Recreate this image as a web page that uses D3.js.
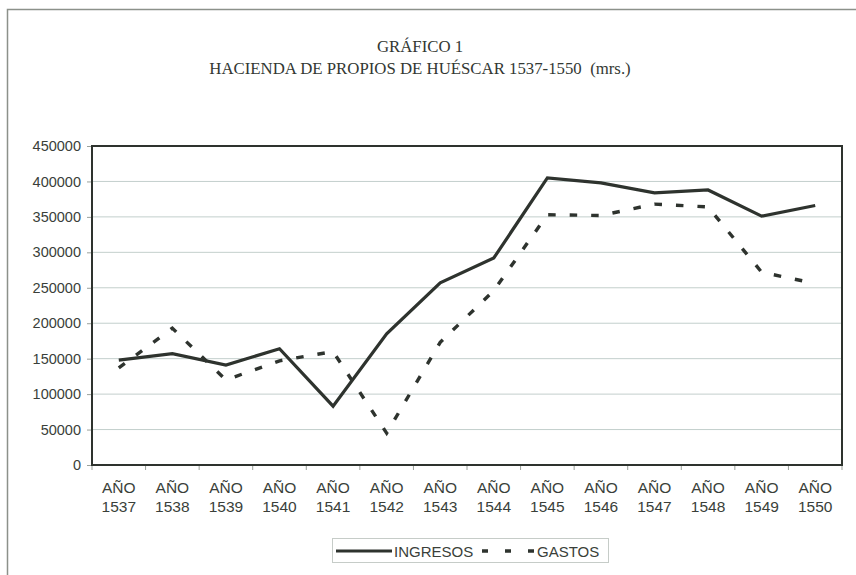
<!DOCTYPE html>
<html>
<head>
<meta charset="utf-8">
<script src="https://cdn.jsdelivr.net/npm/d3@7"></script>
<style>
  html, body { margin: 0; padding: 0; background: #fff; }
  svg { display: block; }
</style>
</head>
<body>
<svg id="chart" width="856" height="575"></svg>
<script>
const years = ["1537","1538","1539","1540","1541","1542","1543","1544","1545","1546","1547","1548","1549","1550"];
const ingresos = [148000,157000,141000,164000,83000,185000,257000,292000,405000,398000,384000,388000,351000,366000];
const gastos = [137000,193000,120000,147000,160000,45000,173000,246000,353000,352000,368000,364000,272000,256000];
const yTicks = [0,50000,100000,150000,200000,250000,300000,350000,400000,450000];
const titleLines = ["GRÁFICO 1","HACIENDA DE PROPIOS DE HUÉSCAR 1537-1550  (mrs.)"];
const seriesNames = ["INGRESOS","GASTOS"];

const svg = d3.select("#chart");
const M = {left: 92, top: 146, right: 842, bottom: 465};
const ink = "#2e332e";
const sans = "'Liberation Sans', Arial, sans-serif";

// outer frame
svg.append("path")
  .attr("d", `M7.5,575 L7.5,9.5 L856,9.5`)
  .attr("fill","none").attr("stroke","#8c918a").attr("stroke-width",1.5);

// title
svg.selectAll("text.title").data(titleLines).join("text")
  .attr("class","title")
  .attr("x", 420).attr("y", (d,i)=> 52 + i*22)
  .attr("text-anchor","middle")
  .attr("xml:space","preserve")
  .style("white-space","pre")
  .attr("font-family","'Liberation Serif', 'Times New Roman', serif")
  .attr("font-size", 16.8).attr("fill","#333833")
  .text(d=>d);

const x = d3.scaleBand().domain(years).range([M.left, M.right]);
const y = d3.scaleLinear().domain([0,450000]).range([M.bottom, M.top]);

// gridlines
svg.append("g").selectAll("line").data(yTicks.slice(1,-1)).join("line")
  .attr("x1", M.left).attr("x2", M.right)
  .attr("y1", d=>y(d)).attr("y2", d=>y(d))
  .attr("stroke","#c3cfcc").attr("stroke-width",1);

// y axis
const yAxis = svg.append("g").attr("transform",`translate(${M.left},0)`)
  .call(d3.axisLeft(y).tickValues(yTicks).tickSize(5).tickPadding(6).tickFormat(d3.format("d")));
yAxis.select(".domain").remove();
yAxis.selectAll("line").attr("stroke","#9aa09a");
yAxis.selectAll("text").attr("font-family",sans)
  .attr("font-size",14.5).attr("fill","#3a3f3a");

// x axis ticks at boundaries
const bounds = years.map(d=>x(d)).concat([M.right]);
svg.append("g").selectAll("line").data(bounds).join("line")
  .attr("x1",d=>d).attr("x2",d=>d).attr("y1",M.bottom).attr("y2",M.bottom+5)
  .attr("stroke","#9aa09a");

// x labels
const xl = svg.append("g").selectAll("text").data(years).join("text")
  .attr("x", d=>x(d)+x.bandwidth()/2)
  .attr("text-anchor","middle")
  .attr("font-family",sans)
  .attr("font-size",15.5).attr("fill","#3a3f3a");
xl.append("tspan").attr("x", d=>x(d)+x.bandwidth()/2).attr("y",493).text("AÑO");
xl.append("tspan").attr("x", d=>x(d)+x.bandwidth()/2).attr("y",512).text(d=>d);

// plot border
svg.append("rect").attr("x",M.left).attr("y",M.top)
  .attr("width",M.right-M.left).attr("height",M.bottom-M.top)
  .attr("fill","none").attr("stroke",ink).attr("stroke-width",2);

const line = d3.line().x((d,i)=>x(years[i])+x.bandwidth()/2).y(d=>y(d));

svg.append("path").datum(ingresos).attr("d",line)
  .attr("fill","none").attr("stroke",ink).attr("stroke-width",3.2).attr("stroke-linejoin","miter");
svg.append("path").datum(gastos).attr("d",line)
  .attr("fill","none").attr("stroke",ink).attr("stroke-width",3.4)
  .attr("stroke-dasharray","7.5,14");

// legend
const lg = svg.append("g");
lg.append("rect").attr("x",332.5).attr("y",538.5).attr("width",276).attr("height",24)
  .attr("fill","#fff").attr("stroke","#c6ccc8").attr("stroke-width",1);
lg.append("line").attr("x1",336).attr("x2",392).attr("y1",551).attr("y2",551)
  .attr("stroke",ink).attr("stroke-width",3.2);
lg.append("text").attr("x",394).attr("y",556.5).text(seriesNames[0])
  .attr("font-family",sans).attr("font-size",15).attr("fill","#3a3f3a");
lg.append("line").attr("x1",482).attr("x2",534).attr("y1",551).attr("y2",551)
  .attr("stroke",ink).attr("stroke-width",3.4).attr("stroke-dasharray","6,17");
lg.append("text").attr("x",537).attr("y",556.5).text(seriesNames[1])
  .attr("font-family",sans).attr("font-size",15).attr("fill","#3a3f3a");
</script>
</body>
</html>
